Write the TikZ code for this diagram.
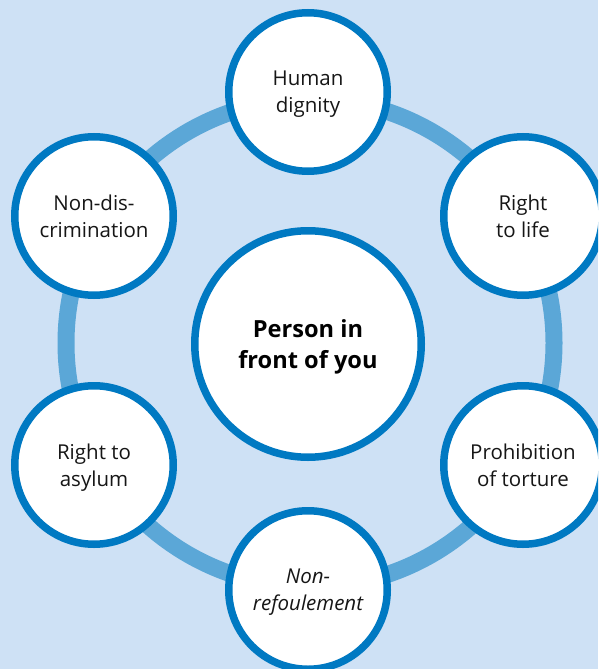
\documentclass[tikz,border=0pt]{standalone}
\usepackage{fontspec}
\setmainfont{Open Sans}
\definecolor{bgblue}{HTML}{CEE1F5}
\definecolor{ringblue}{HTML}{5BA7D7}
\definecolor{rimblue}{HTML}{0079C2}
\definecolor{txt}{HTML}{161616}
\tikzset{
  value/.style={circle, draw=rimblue, line width=7.5pt, fill=white, inner sep=0pt,
    minimum size=158.5pt, align=center, text=txt, text depth=-3pt,
    font=\fontsize{20.5}{27}\selectfont},
  core/.style={circle, draw=rimblue, line width=7.5pt, fill=white, inner sep=0pt,
    minimum size=226.5pt, align=center, text=black, text depth=0pt,
    font=\bfseries\fontsize{23.6}{31}\selectfont},
  ringline/.style={draw=ringblue, line width=17pt}
}
\begin{document}
\begin{tikzpicture}[x=1pt, y=-1pt]
\path[use as bounding box] (0,0) rectangle (598,669);
\clip (0,0) rectangle (598,669);
\fill[bgblue] (0,0) rectangle (598,669);
\coordinate (ringc) at (310,343);
\draw[ringline] (ringc) circle [radius=244pt];
\node[core] (center) at (308,344) {Person in\\front of you};
\node[value] (dignity) at (308,92) {Human\\dignity};
\node[value] (life) at (523,216) {Right\\to life};
\node[value] (torture) at (523,465) {Prohibition\\of torture};
\node[value] (refoul) at (308,590) {\itshape Non-\\\itshape refoulement};
\node[value] (asylum) at (94,465) {Right to\\asylum};
\node[value] (discr) at (94,216) {Non-dis-\\crimination};
\end{tikzpicture}
\end{document}
